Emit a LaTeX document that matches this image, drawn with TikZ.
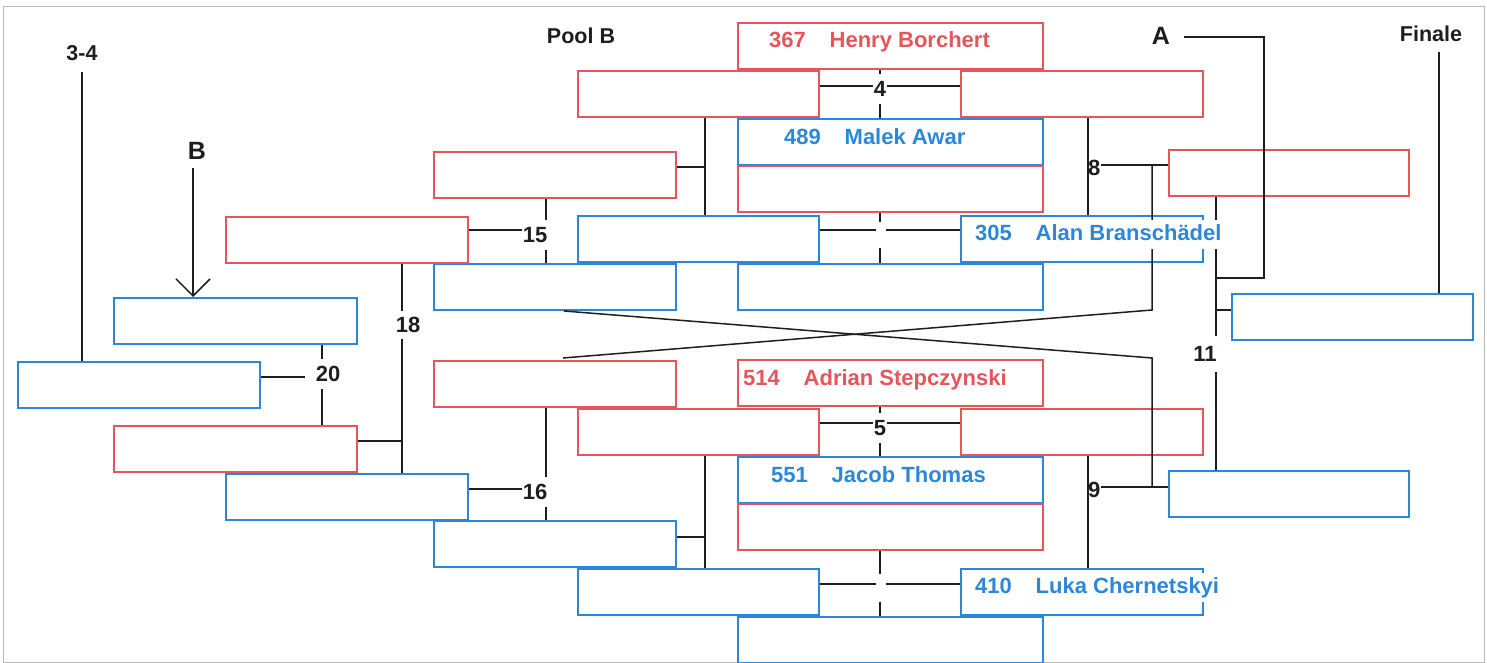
\documentclass[tikz,border=0pt]{standalone}
\usepackage{fontspec}
\setmainfont{Liberation Sans}
\usetikzlibrary{arrows.meta,calc}
\definecolor{cred}{RGB}{228,86,92}
\definecolor{cblue}{RGB}{45,135,215}
\definecolor{cline}{RGB}{30,30,30}
\newcommand\ent[2]{\makebox[60.5pt][l]{#1}#2}
\begin{document}
\begin{tikzpicture}[x=1pt,y=-1pt,
  bx/.style={draw, line width=2pt, minimum height=46pt, inner sep=0pt, anchor=north west},
  rb/.style={bx, draw=cred, minimum width=#1},
  rb/.default=242pt,
  bb/.style={bx, draw=cblue, minimum width=#1},
  bb/.default=242pt,
  cn/.style={draw=cline, line width=1.5pt},
  num/.style={font=\fontsize{22}{26}\selectfont\bfseries, text=cline, inner xsep=1pt, inner ysep=7pt},
  lab/.style={font=\fontsize{21.5}{25}\selectfont\bfseries, text=cline},
  labbig/.style={font=\fontsize{25}{29}\selectfont\bfseries, text=cline},
  ptxt/.style={font=\fontsize{22}{26}\selectfont\bfseries, anchor=base west, inner sep=0pt},
  over/.style={ptxt, fill=white, inner sep=4pt, text depth=5pt},
  gapn/.style={inner sep=0pt, minimum width=10pt}
]
\useasboundingbox (0,0) rectangle (1487,663);
\draw[gray!55, line width=0.8pt] (3,6) rectangle (1484,662);

% centre column
\node[rb=305pt] (c1) at (737,22) {};
\node[bb=305pt] (c2) at (737,118) {};
\node[rb=305pt] (c3) at (737,165) {};
\node[bb=305pt] (c4) at (737,263) {};
\node[rb=305pt] (c5) at (737,359) {};
\node[bb=305pt] (c6) at (737,456) {};
\node[rb=305pt] (c7) at (737,503) {};
\node[bb=305pt] (c8) at (737,616) {};
% left / right of centre
\node[rb=241pt] (L1) at (577,70) {};
\node[bb=241pt] (L2) at (577,215) {};
\node[rb=241pt] (L3) at (577,408) {};
\node[bb=241pt] (L4) at (577,568) {};
\node[rb] (R1) at (960,70) {};
\node[bb] (R2) at (960,215) {};
\node[rb] (R3) at (960,408) {};
\node[bb] (R4) at (960,568) {};
% pool B side
\node[rb] (M1) at (433,151) {};
\node[bb] (M2) at (433,263) {};
\node[rb] (M3) at (433,360) {};
\node[bb] (M4) at (433,520) {};
\node[rb] (N1) at (225,216) {};
\node[bb] (N2) at (225,473) {};
\node[bb=243pt] (P1) at (113,297) {};
\node[rb=243pt] (P2) at (113,425) {};
\node[bb] (Q1) at (17,361) {};
% right side
\node[rb=240pt] (S1) at (1168,149) {};
\node[bb=240pt] (S2) at (1168,470) {};
\node[bb=241pt] (F1) at (1231,293) {};

% names
\node[ptxt, text=cred] (t1) at (769,48) {\ent{367}{Henry Borchert}};
\node[ptxt, text=cblue] (t2) at (784,145) {\ent{489}{Malek Awar}};
\node[ptxt, text=cred] (t5) at (743,385) {\ent{514}{Adrian Stepczynski}};
\node[ptxt, text=cblue] (t6) at (771,482) {\ent{551}{Jacob Thomas}};

% headings
\node[lab] (l34) at (82,53) {3-4};
\node[lab] (pool) at (581,36) {Pool B};
\node[lab] (fin) at (1431,34) {Finale};
\node[labbig] (A) at (1161,36) {A};
\node[labbig] (B) at (197,151) {B};

% match 4
\node[num] (n4) at (880,89) {4};
\coordinate (h4) at (880,86);
\draw[cn] (c1.south -| n4) -- (n4.north);
\draw[cn] (n4.south) -- (c2.north -| n4);
\draw[cn] (L1.east |- h4) -- (n4.west |- h4);
\draw[cn] (n4.east |- h4) -- (R1.west |- h4);
% empty junction upper
\node[gapn, minimum height=26pt] (e1) at (881,235) {};
\coordinate (h1) at (880,230);
\draw[cn] (c3.south -| h1) -- (e1.north -| h1);
\draw[cn] (e1.south -| h1) -- (c4.north -| h1);
\draw[cn] (L2.east |- h1) -- (e1.west |- h1);
\draw[cn] (e1.east |- h1) -- (R2.west |- h1);
% x=705 upper
\coordinate (v1) at (705,167);
\draw[cn] (L1.south -| v1) -- (L2.north -| v1);
\draw[cn] (M1.east |- v1) -- (v1);
% 15
\node[num] (n15) at (535,235) {15};
\coordinate (v15) at (546,230);
\draw[cn] (N1.east |- v15) -- (n15.west |- v15);
\draw[cn] (M1.south -| v15) -- (n15.north -| v15);
\draw[cn] (n15.south -| v15) -- (M2.north -| v15);
% 16
\node[num] (n16) at (535,492) {16};
\coordinate (v16) at (546,489);
\draw[cn] (N2.east |- v16) -- (n16.west |- v16);
\draw[cn] (M3.south -| v16) -- (n16.north -| v16);
\draw[cn] (n16.south -| v16) -- (M4.north -| v16);
% x=705 lower
\coordinate (v2) at (705,537);
\draw[cn] (L3.south -| v2) -- (L4.north -| v2);
\draw[cn] (M4.east |- v2) -- (v2);
% match 5
\node[num] (n5) at (880,428) {5};
\coordinate (h5) at (880,423);
\draw[cn] (c5.south -| n5) -- (n5.north);
\draw[cn] (n5.south) -- (c6.north -| n5);
\draw[cn] (L3.east |- h5) -- (n5.west |- h5);
\draw[cn] (n5.east |- h5) -- (R3.west |- h5);
% empty junction lower
\node[gapn, minimum height=27pt] (e2) at (881,588) {};
\coordinate (h2) at (880,584);
\draw[cn] (c7.south -| h2) -- (e2.north -| h2);
\draw[cn] (e2.south -| h2) -- (c8.north -| h2);
\draw[cn] (L4.east |- h2) -- (e2.west |- h2);
\draw[cn] (e2.east |- h2) -- (R4.west |- h2);
% 8
\node[num, anchor=west, inner xsep=0pt] (n8) at (1088,168) {8};
\coordinate (v8) at (1088,168);
\draw[cn] (R1.south -| v8) -- (R2.north -| v8);
\coordinate (k8) at (1152,165);
\coordinate (d8) at (1152,310);
\coordinate (t8) at ($(M3.north)+(8,-2)$);
\draw[cn] (n8.east |- k8) -- (S1.west |- k8);
\draw[cn] (k8) -- (d8) -- (t8);
% 9
\node[num, anchor=west, inner xsep=0pt] (n9) at (1088,490) {9};
\coordinate (v9) at (1088,490);
\draw[cn] (R3.south -| v9) -- (R4.north -| v9);
\coordinate (k9) at (1152,487);
\coordinate (d9) at (1152,358);
\coordinate (t9) at ($(M2.south)+(9,0)$);
\draw[cn] (n9.east |- k9) -- (S2.west |- k9);
\draw[cn] (k9) -- (d9) -- (t9);
% 11
\node[num, inner ysep=10pt] (n11) at (1205,354) {11};
\coordinate (v11) at (1216,310);
\draw[cn] (S1.south -| v11) -- (n11.north -| v11);
\draw[cn] (n11.south -| v11) -- (S2.north -| v11);
\draw[cn] (v11) -- (F1.west |- v11);
% A
\coordinate (a1) at (1264,37);
\coordinate (a2) at (1264,278);
\coordinate (a3) at (1216,278);
\draw[cn] ([xshift=10pt]A.east |- a1) -- (a1) -- (a2) -- (a3);
% Finale
\coordinate (f1) at (1439,52);
\draw[cn] (f1) -- (F1.north -| f1);
% 3-4
\coordinate (q1) at (82,72);
\draw[cn] (q1) -- (Q1.north -| q1);
% B
\coordinate (b1) at (193,168);
\draw[cn, -{Straight Barb[length=17pt,width=34pt]}] (b1) -- (P1.north -| b1);
% 20
\node[num, inner xsep=11pt, inner ysep=7pt] (n20) at (328,374) {20};
\coordinate (v20) at (322,377);
\draw[cn] (P1.south -| v20) -- (n20.north -| v20);
\draw[cn] (n20.south -| v20) -- (P2.north -| v20);
\draw[cn] (Q1.east |- v20) -- (n20.west |- v20);
% 18
\node[num, inner ysep=6pt] (n18) at (408,325) {18};
\coordinate (v18) at (402,441);
\draw[cn] (N1.south -| v18) -- (n18.north -| v18);
\draw[cn] (n18.south -| v18) -- (N2.north -| v18);
\draw[cn] (P2.east |- v18) -- (v18);

% overflowing names (white background covers lines)
\node[over, text=cblue] (t3) at (971,240) {\ent{305}{Alan Branschädel}};
\node[over, text=cblue] (t4) at (971,593) {\ent{410}{Luka Chernetskyi}};
\end{tikzpicture}
\end{document}
